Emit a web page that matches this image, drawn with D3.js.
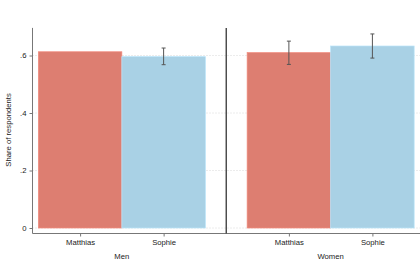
<!DOCTYPE html>
<html lang="en">
<head>
    <meta charset="UTF-8">
    <script src="https://d3js.org/d3.v7.min.js"></script>
    <title>share of respondents</title>
    <style>
        body { margin: 0; background: #fff; }
        text { font-family: "Liberation Sans", Arial, sans-serif; font-size: 7.7px; fill: #222; }
    </style>
</head>
<body>
    <svg width="420" height="280"></svg>
    <script>
        // data
        var groups = ["Men", "Women"];
        var names = ["Matthias", "Sophie"];
        var shares = [0.613, 0.596, 0.610, 0.633];
        var lower = [null, 0.568, 0.569, 0.591];
        var upper = [null, 0.626, 0.650, 0.675];
        var slots = [1, 2, 3.5, 4.5];
        var yTicks = [0, 0.2, 0.4, 0.6];
        var yLabels = ["0", ".2", ".4", ".6"];

        var svg = d3.select("svg");
        var colors = ["#dd7e71", "#a9d1e5"];

        var x = d3.scaleLinear().domain([0.43, 5.07]).range([32.5, 420]);
        var y = d3.scaleLinear().domain([0, 0.6]).range([228, 55.5]);
        var bw = x(2) - x(1);

        // dotted gridlines
        svg.append("g").selectAll("line")
            .data(yTicks)
            .enter().append("line")
            .attr("x1", x(0.43)).attr("x2", 420)
            .attr("y1", d => y(d)).attr("y2", d => y(d))
            .attr("stroke", "#cfcfcf")
            .attr("stroke-width", 0.8)
            .attr("stroke-dasharray", "1,2");

        // bars
        svg.append("g").selectAll("rect")
            .data(shares)
            .enter().append("rect")
            .attr("x", (d, i) => x(slots[i]) - bw / 2)
            .attr("width", bw)
            .attr("y", d => y(d))
            .attr("height", d => y(0) - y(d))
            .attr("fill", (d, i) => colors[i % 2])
            .attr("stroke", (d, i) => d3.color(colors[i % 2]).brighter(0.25))
            .attr("stroke-width", 0.7);

        // error bars
        var err = svg.append("g").attr("stroke", "#555").attr("stroke-width", 1);
        shares.forEach(function(d, i) {
            if (lower[i] == null) return;
            var cx = x(slots[i]);
            err.append("line").attr("x1", cx).attr("x2", cx)
                .attr("y1", y(lower[i])).attr("y2", y(upper[i]));
            [lower[i], upper[i]].forEach(function(v) {
                err.append("line").attr("x1", cx - 2).attr("x2", cx + 2)
                    .attr("y1", y(v)).attr("y2", y(v));
            });
        });

        // y axis
        var yAxis = svg.append("g")
            .attr("transform", "translate(32.5,0)")
            .call(d3.axisLeft(y).tickValues(yTicks).tickSize(3).tickPadding(3)
                .tickFormat((d, i) => yLabels[i]));
        yAxis.select(".domain").attr("d", "M0," + y(0.696) + "V233.5");
        yAxis.selectAll("path, line").attr("stroke", "#777");
        yAxis.selectAll("text").style("font-size", "7.7px").attr("fill", "#222");

        // x axis
        var xAxis = svg.append("g")
            .attr("transform", "translate(0,233.5)")
            .call(d3.axisBottom(x).tickValues(slots).tickSize(3).tickPadding(3)
                .tickFormat((d, i) => names[i % 2]));
        xAxis.select(".domain").attr("d", "M32.5,0H420");
        xAxis.selectAll("path, line").attr("stroke", "#777");
        xAxis.selectAll("text").style("font-size", "7.7px").attr("fill", "#222");

        // group labels
        svg.append("g").selectAll("text")
            .data(groups)
            .enter().append("text")
            .attr("x", (d, i) => (x(slots[i * 2]) + x(slots[i * 2 + 1])) / 2)
            .attr("y", 259)
            .attr("text-anchor", "middle")
            .text(d => d);

        // divider between panels
        svg.append("line")
            .attr("x1", x(2.75)).attr("x2", x(2.75))
            .attr("y1", y(0.696)).attr("y2", 233.5)
            .attr("stroke", "#444")
            .attr("stroke-width", 1.4);

        svg.append("text")
            .attr("transform", "translate(11,130) rotate(-90)")
            .attr("text-anchor", "middle")
            .text("Share of respondents");
    </script>
</body>
</html>
